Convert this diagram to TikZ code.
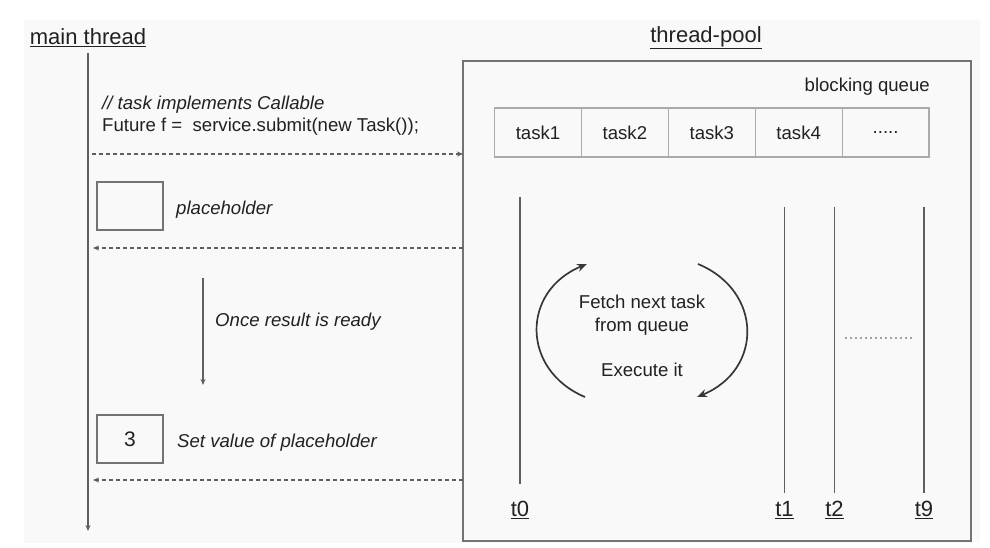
\documentclass[tikz,border=0pt]{standalone}
\usepackage{fontspec}
\setmainfont{Liberation Sans}
\usetikzlibrary{arrows.meta, positioning}
\definecolor{panelgray}{RGB}{249,249,249}
\definecolor{inkdark}{RGB}{33,33,33}
\definecolor{linegray}{RGB}{95,95,95}
\definecolor{boxgray}{RGB}{115,115,115}
\definecolor{cellgray}{RGB}{170,170,170}
\definecolor{dotgray}{RGB}{160,160,160}
\tikzset{
  hdr/.style={font=\fontsize{22}{26}\selectfont, text=inkdark, inner sep=0pt},
  note/.style={font=\fontsize{18.6}{22}\selectfont\itshape, text=inkdark, inner sep=0pt},
  plain/.style={font=\fontsize{18.6}{23}\selectfont, text=inkdark, inner sep=0pt, align=center},
  phbox/.style={draw=boxgray, line width=1.2pt, minimum width=66pt, minimum height=48pt,
                inner sep=0pt, outer sep=0pt, font=\fontsize{21}{24}\selectfont, text=inkdark},
  cell/.style={draw=cellgray, line width=1.2pt, minimum width=86.9pt, minimum height=49pt,
               inner sep=0pt, outer sep=0pt, font=\fontsize{18.6}{22}\selectfont, text=inkdark},
  poolbox/.style={draw=boxgray, line width=1.5pt, minimum width=508pt, minimum height=480pt,
                  inner sep=0pt, outer sep=0pt},
  life/.style={draw=linegray, line width=1.3pt},
  arrow/.style={-{Stealth[length=6pt, width=5pt]}, line width=1.3pt, linegray},
  dasharrow/.style={arrow, dash pattern=on 4pt off 3pt},
  cyclearrow/.style={-{Stealth[length=10pt, width=8pt]}, line width=1.7pt, inkdark!90},
}

\begin{document}
\begin{tikzpicture}[x=1pt, y=-1pt]
  \useasboundingbox (0,0) rectangle (990,547);
  \fill[white] (0,0) rectangle (990,547);
  \fill[panelgray] (24,20) rectangle (980,543);

  % main thread side
  \node[hdr] (mainhdr) at (88,38) {\underline{main thread}};
  \coordinate (mtop) at (88,53);
  \coordinate (mbot) at (88,531);
  \draw[arrow] (mtop) -- (mbot);

  \node[note, anchor=west] (comment) at (102,105) {// task implements Callable};
  \node[plain, anchor=west] (submitcode) at (102,127) {Future f = \ service.submit(new Task());};

  \node[phbox] (ph) at (130,206) {};
  \node[note, right=13pt of ph, yshift=-4pt] (phlbl) {placeholder};

  \coordinate (waittop) at (203,278);
  \coordinate (waitbot) at (203,385);
  \draw[arrow] (waittop) -- (waitbot);
  \node[note, anchor=west] (waitlbl) at (215,322) {Once result is ready};

  \node[phbox] (res) at (130,439) {3};
  \node[note, right=14pt of res, yshift=-4pt] (reslbl) {Set value of placeholder};

  % thread pool side
  \node[hdr] (poolhdr) at (706,38) {\underline{thread-pool}};
  \node[poolbox] (pool) at (717,301) {};

  \node[plain, anchor=east] (bqlbl) at (930,87) {blocking queue};
  \node[cell] (task1) at (538,132.5) {task1};
  \node[cell, right=0pt of task1] (task2) {task2};
  \node[cell, right=0pt of task2] (task3) {task3};
  \node[cell, right=0pt of task3] (task4) {task4};
  \node[cell, right=0pt of task4] (more) {.....};

  % messages
  \coordinate (sendpt) at (92,154);
  \coordinate (back1) at (93,248);
  \coordinate (back2) at (93,480);
  \draw[dasharrow] (sendpt) -- (sendpt -| pool.west);
  \draw[dasharrow] (back1 -| pool.west) -- (back1);
  \draw[dasharrow] (back2 -| pool.west) -- (back2);

  % worker threads
  \node[hdr] (t0) at (520,510) {\underline{t0}};
  \node[hdr] (t1) at (784.5,510) {\underline{t1}};
  \node[hdr] (t2) at (834.5,510) {\underline{t2}};
  \node[hdr] (t9) at (924,510) {\underline{t9}};
  \coordinate (t0top) at (520,197);
  \coordinate (t0bot) at (520,484);
  \draw[life] (t0top) -- (t0bot);
  \foreach \t in {t1,t2,t9} {
    \draw[life] (\t.north |- 0,207) -- (\t.north |- 0,493);
  }
  \coordinate (gapl) at (845,338);
  \coordinate (gapr) at (915,338);
  \draw[dotgray, line width=1.2pt, dash pattern=on 1.5pt off 3.5pt] (gapl) -- (gapr);

  % loop of a worker
  \node[plain] (fetch) at (642,315) {Fetch next task\\from queue};
  \node[plain] (exec) at (642,370) {Execute it};
  \draw[cyclearrow] (585,397) .. controls (521,370) and (521,291) .. (587,264);
  \draw[cyclearrow] (698,264) .. controls (763,291) and (763,370) .. (697,397);
\end{tikzpicture}
\end{document}
